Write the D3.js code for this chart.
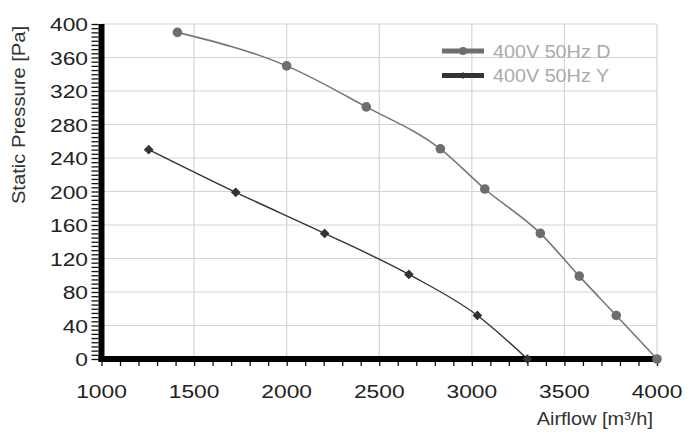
<!DOCTYPE html>
<html>
<head>
<meta charset="utf-8">
<script src="https://cdn.jsdelivr.net/npm/d3@7"></script>
<style>
  body { margin: 0; background: #fff; }
  svg text { font-family: "Liberation Sans", Arial, sans-serif; }
</style>
</head>
<body>
<div id="chart"></div>
<script>
// curve data
const seriesNames = ["400V 50Hz D", "400V 50Hz Y"];
const airflowD = [1410, 2000, 2430, 2830, 3070, 3370, 3580, 3780, 4000];
const pressureD = [390, 350, 301, 251, 203, 150, 99, 52, 0];
const airflowY = [1255, 1725, 2205, 2660, 3030, 3300];
const pressureY = [250, 199, 150, 101, 52, 0];
const xTicks = [1000, 1500, 2000, 2500, 3000, 3500, 4000];
const yTicks = [0, 40, 80, 120, 160, 200, 240, 280, 320, 360, 400];

const width = 700, height = 448;

const svg = d3.select("#chart").append("svg")
    .attr("width", width)
    .attr("height", height);

const x = d3.scaleLinear().domain([1000, 4000]).range([101.5, 657]);
const y = d3.scaleLinear().domain([0, 400]).range([359, 24]);

// the source font is rendered wider than Arial, so texts get stretched a bit
function stretched(tx, ty, sx, rot) {
    return "translate(" + tx + "," + ty + ")" + (rot ? " rotate(" + rot + ")" : "") + " scale(" + sx + ",1)";
}

// grid
svg.append("g").selectAll("line")
    .data(xTicks.slice(1))
    .join("line")
    .attr("x1", d => x(d)).attr("x2", d => x(d))
    .attr("y1", y(400)).attr("y2", y(0))
    .attr("stroke", "#d4d4d4").attr("stroke-width", 1.2);

svg.append("g").selectAll("line")
    .data(yTicks.slice(1))
    .join("line")
    .attr("x1", x(1000)).attr("x2", x(4000))
    .attr("y1", d => y(d)).attr("y2", d => y(d))
    .attr("stroke", "#d4d4d4").attr("stroke-width", 1.2);

// axes with minor ticks
const yAxis = d3.axisLeft(y)
    .tickValues(d3.range(0, 401, 5))
    .tickSize(7)
    .tickFormat("");
svg.append("g")
    .attr("transform", "translate(" + (x(1000) - 3) + ",0)")
    .call(yAxis)
    .call(g => g.select(".domain").remove())
    .call(g => g.selectAll(".tick line").attr("stroke", "#111").attr("stroke-width", 1.3));

const xAxis = d3.axisBottom(x)
    .tickValues(d3.range(1000, 4001, 100))
    .tickSize(4)
    .tickFormat("");
svg.append("g")
    .attr("transform", "translate(0," + (y(0) + 3) + ")")
    .call(xAxis)
    .call(g => g.select(".domain").remove())
    .call(g => g.selectAll(".tick line").attr("stroke", "#111").attr("stroke-width", 1.3));

// tick labels
svg.append("g").selectAll("text")
    .data(yTicks)
    .join("text")
    .attr("transform", d => stretched(88, y(d) + 7, 1.2))
    .attr("text-anchor", "end")
    .attr("font-size", 19)
    .attr("fill", "#222")
    .text(d => d);

svg.append("g").selectAll("text")
    .data(xTicks)
    .join("text")
    .attr("transform", d => stretched(x(d), 398, 1.2))
    .attr("text-anchor", "middle")
    .attr("font-size", 19)
    .attr("fill", "#222")
    .text(d => d);

// axis titles
svg.append("text")
    .attr("transform", stretched(25, 115, 1.12, -90))
    .attr("text-anchor", "middle")
    .attr("font-size", 18)
    .attr("fill", "#333")
    .text("Static Pressure [Pa]");

svg.append("text")
    .attr("transform", stretched(653, 425, 1.05))
    .attr("text-anchor", "end")
    .attr("font-size", 19)
    .attr("fill", "#333")
    .text("Airflow [m³/h]");

// curves
const dataD = airflowD.map((a, i) => ({ a: a, p: pressureD[i] }));
const dataY = airflowY.map((a, i) => ({ a: a, p: pressureY[i] }));

const line = d3.line()
    .x(d => x(d.a))
    .y(d => y(d.p))
    .curve(d3.curveMonotoneX);

svg.append("path")
    .datum(dataD)
    .attr("d", line)
    .attr("fill", "none")
    .attr("stroke", "#777")
    .attr("stroke-width", 1.6);

svg.append("path")
    .datum(dataY)
    .attr("d", line)
    .attr("fill", "none")
    .attr("stroke", "#333")
    .attr("stroke-width", 1.4);

// thick axis bars
svg.append("line")
    .attr("x1", x(1000)).attr("x2", x(1000))
    .attr("y1", y(400)).attr("y2", y(0) + 3)
    .attr("stroke", "#000").attr("stroke-width", 6);
svg.append("line")
    .attr("x1", x(1000) - 3).attr("x2", x(4000) + 1)
    .attr("y1", y(0)).attr("y2", y(0))
    .attr("stroke", "#000").attr("stroke-width", 6);

// markers
svg.append("g").selectAll("circle")
    .data(dataD)
    .join("circle")
    .attr("cx", d => x(d.a))
    .attr("cy", d => y(d.p))
    .attr("r", 4.8)
    .attr("fill", "#6e6e6e");

const diamond = d3.symbol().type(d3.symbolDiamond2).size(60);
svg.append("g").selectAll("path")
    .data(dataY)
    .join("path")
    .attr("transform", d => "translate(" + x(d.a) + "," + y(d.p) + ")")
    .attr("d", diamond)
    .attr("fill", "#333");

// legend
const legend = svg.append("g");
const legendColors = ["#6e6e6e", "#333"];
seriesNames.forEach(function(name, i) {
    const ly = 51 + i * 24.5;
    legend.append("line")
        .attr("x1", 442).attr("x2", 484)
        .attr("y1", ly).attr("y2", ly)
        .attr("stroke", legendColors[i]).attr("stroke-width", 5);
    if (i === 0) {
        legend.append("circle")
            .attr("cx", 463).attr("cy", ly).attr("r", 4)
            .attr("fill", legendColors[i]);
    } else {
        legend.append("path")
            .attr("transform", "translate(463," + ly + ")")
            .attr("d", d3.symbol().type(d3.symbolDiamond2).size(30))
            .attr("fill", legendColors[i]);
    }
    legend.append("text")
        .attr("transform", stretched(493, ly + 6.5, 1.13))
        .attr("font-size", 17.5)
        .attr("fill", "#aaa")
        .text(name);
});
</script>
</body>
</html>
